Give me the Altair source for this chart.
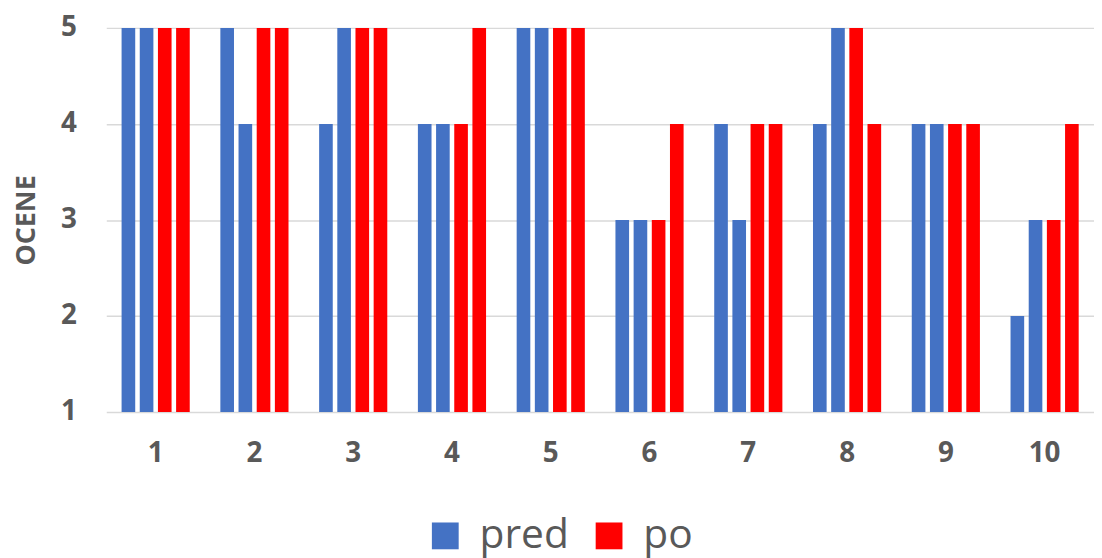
import altair as alt
import pandas as pd

categories = ["1", "2", "3", "4", "5", "6", "7", "8", "9", "10"]
pred_a = [5, 5, 4, 4, 5, 3, 4, 4, 4, 2]
pred_b = [5, 4, 5, 4, 5, 3, 3, 5, 4, 3]
po_a = [5, 5, 5, 4, 5, 3, 4, 5, 4, 3]
po_b = [5, 5, 5, 5, 5, 4, 4, 4, 4, 4]
series_names = ["pred", "po"]
colors = ["#4472C4", "#FF0000"]

rows = []
for i, c in enumerate(categories):
    for j, (s, vals) in enumerate([("pred", pred_a), ("pred", pred_b), ("po", po_a), ("po", po_b)]):
        rows.append({"cat": c, "bar": j, "series": s, "value": vals[i]})
df = pd.DataFrame(rows)

FONT = "Open Sans"
GRAY = "#595959"

chart = alt.Chart(df).mark_bar().encode(
    x=alt.X("cat:N", sort=categories,
            scale=alt.Scale(paddingInner=0.31, paddingOuter=0.155),
            axis=alt.Axis(title=None, labelAngle=0, labelFontSize=28, labelFontWeight="bold",
                          labelColor=GRAY, labelFont=FONT, ticks=False, domain=False,
                          labelPadding=28, grid=False)),
    xOffset=alt.XOffset("bar:O", scale=alt.Scale(paddingInner=0.25, paddingOuter=0)),
    y=alt.Y("value:Q", scale=alt.Scale(domain=[1, 5], nice=False, zero=False),
            axis=alt.Axis(title="OCENE", values=[1, 2, 3, 4, 5], format="d",
                          labelFontSize=28, labelFontWeight="bold", labelColor=GRAY, labelFont=FONT,
                          titleFontSize=27, titleFontWeight="bold", titleColor=GRAY, titleFont=FONT,
                          titlePadding=20, labelPadding=30, ticks=False, domain=False,
                          gridColor="#D9D9D9", gridWidth=1.5)),
    y2=alt.datum(1),
    color=alt.Color("series:N", scale=alt.Scale(domain=series_names, range=colors),
                    legend=alt.Legend(title=None, orient="none", direction="horizontal",
                                      legendX=321, legendY=491, padding=0,
                                      symbolType="square", symbolSize=729, symbolStrokeWidth=0,
                                      labelFontSize=41, labelColor=GRAY, labelFont=FONT,
                                      columnPadding=20, labelOffset=14)),
).properties(
    width=995, height=387,
    padding={"left": 4, "top": 4, "right": 0, "bottom": 0},
).configure_view(stroke=None)

chart.save("out.html", embed_options={"renderer": "svg", "actions": False})
